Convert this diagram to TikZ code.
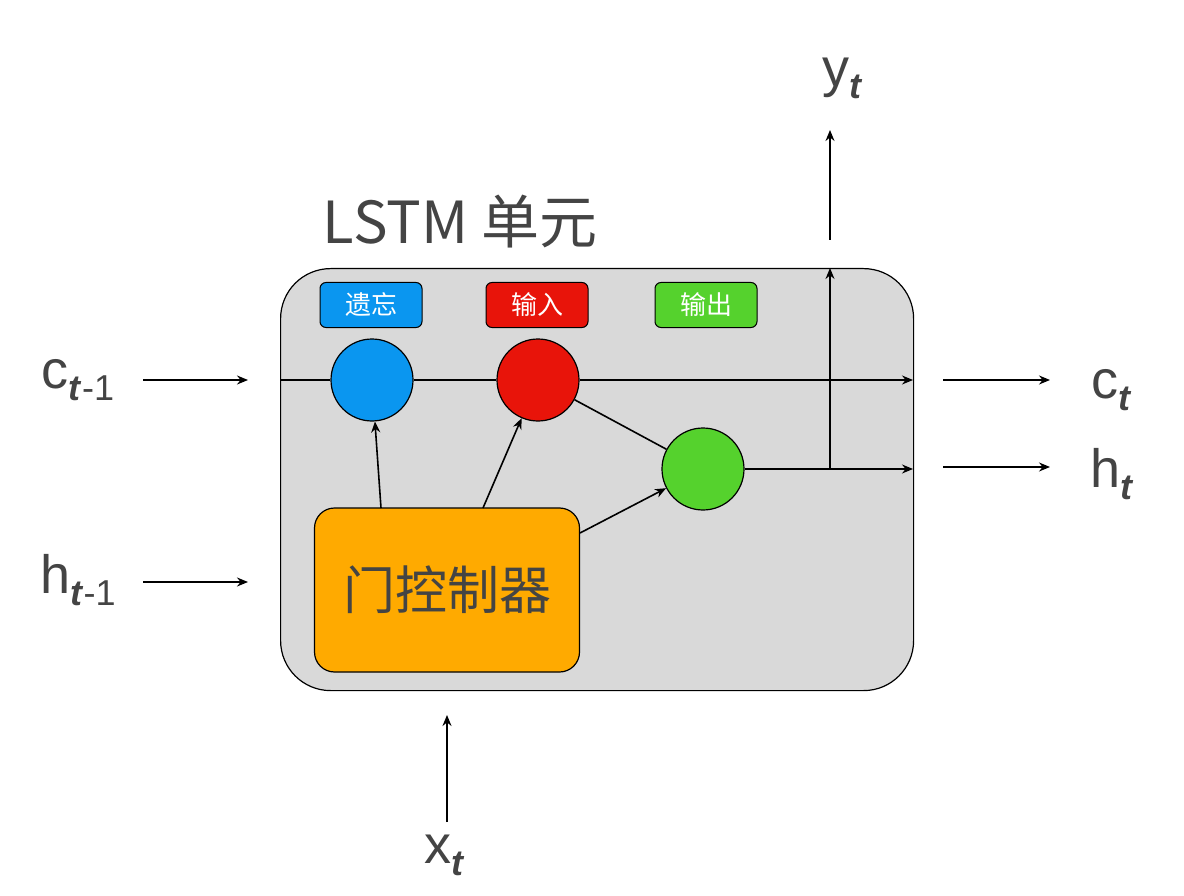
\documentclass[tikz,border=0pt]{standalone}
\usepackage{fontspec}
\setmainfont{Liberation Sans}
\newfontfamily\cjk{Noto Sans CJK SC}
\usetikzlibrary{arrows.meta}
\definecolor{txt}{HTML}{444444}
\definecolor{cellgray}{HTML}{D9D9D9}
\definecolor{gblue}{HTML}{0A96F0}
\definecolor{gred}{HTML}{E8140A}
\definecolor{ggreen}{HTML}{55D22D}
\definecolor{gorange}{HTML}{FFAA00}
\newcommand{\sbt}[1]{\raisebox{-0.22em}{\fontsize{36}{40}\selectfont #1}}
\begin{document}
\begin{tikzpicture}[x=1pt,y=-1pt,
  arr/.style={line width=1.6pt,-{Stealth[length=11pt,width=9pt]}},
  ln/.style={line width=1.6pt},
  gate/.style={circle,draw=black,line width=1.2pt,minimum size=82pt,inner sep=0pt},
  tag/.style={draw=black,line width=1pt,rounded corners=6pt,minimum width=102pt,minimum height=45pt,text=white,font=\cjk\fontsize{26}{30}\selectfont},
  lab/.style={text=txt,font=\fontsize{54}{60}\selectfont,inner sep=0pt}]
\useasboundingbox (0,0) rectangle (1184,896);
\node[draw=black,line width=1.2pt,fill=cellgray,rounded corners=50pt,minimum width=633pt,minimum height=422pt,anchor=north west] (cell) at (280,268) {};
\node[text=txt,font=\fontsize{58}{64}\selectfont\cjk,anchor=center] (title) at (460,222) {LSTM 单元};
\node[tag,fill=gblue] (tf) at (371,305) {遗忘};
\node[tag,fill=gred] (ti) at (537,305) {输入};
\node[tag,fill=ggreen] (to) at (706,305) {输出};
\node[gate,fill=gblue] (gf) at (372,380) {};
\node[gate,fill=gred] (gi) at (538,380) {};
\node[gate,fill=ggreen] (go) at (703,469) {};
\node[draw=black,line width=1.2pt,fill=gorange,rounded corners=20pt,minimum width=265pt,minimum height=164pt,text=txt,font=\cjk\fontsize{52}{60}\selectfont] (ctrl) at (447,590) {门控制器};
\coordinate (cl) at (280,380);
\coordinate (cr) at (913,380);
\coordinate (hr) at (913,469);
\coordinate (vj) at (830,469);
\coordinate (vt) at (830,268);
\coordinate (vb) at (830,240);
\coordinate (vy) at (830,130);
\draw[ln] (cl) -- (gf);
\draw[ln] (gf) -- (gi);
\draw[arr] (gi) -- (cr);
\draw[ln] (gi) -- (go);
\draw[arr] (go) -- (hr);
\draw[arr] (vj) -- (vt);
\draw[arr] (vb) -- (vy);
\draw[arr] (381,508) -- (gf);
\draw[arr] (483,508) -- (gi);
\draw[arr] (580,533) -- (go);
% outside
\node[lab] (cm) at (78,380) {c\sbt{\textbf{\textit{t}}-1}};
\node[lab] (hm) at (78,580) {h\sbt{\textbf{\textit{t}}-1}};
\node[lab] (ct) at (1112,390) {c\sbt{\textbf{\textit{t}}}};
\node[lab] (ht) at (1112,474) {h\sbt{\textbf{\textit{t}}}};
\node[lab] (xt) at (445,855) {x\sbt{\textbf{\textit{t}}}};
\node[lab] (yt) at (843,78) {y\sbt{\textbf{\textit{t}}}};
\coordinate (a1) at (143,380); \coordinate (a2) at (248,380);
\coordinate (b1) at (143,582); \coordinate (b2) at (248,582);
\coordinate (c1) at (943,380); \coordinate (c2) at (1050,380);
\coordinate (d1) at (943,467); \coordinate (d2) at (1050,467);
\coordinate (e1) at (447,822); \coordinate (e2) at (447,715);
\draw[arr] (a1) -- (a2);
\draw[arr] (b1) -- (b2);
\draw[arr] (c1) -- (c2);
\draw[arr] (d1) -- (d2);
\draw[arr] (e1) -- (e2);
\end{tikzpicture}
\end{document}
